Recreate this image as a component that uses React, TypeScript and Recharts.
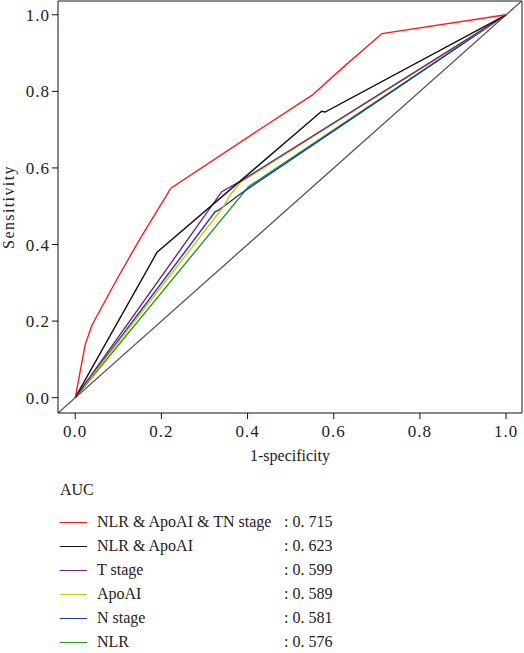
import React from "react";
import {
  LineChart,
  Line,
  XAxis,
  YAxis,
  ReferenceLine,
} from "recharts";

// ROC points (1-specificity, sensitivity)
const combinedFpr = [0, 0.023, 0.039, 0.097, 0.151, 0.222, 0.434, 0.55, 0.623, 0.712, 1];
const combinedTpr = [0, 0.138, 0.19, 0.31, 0.416, 0.547, 0.705, 0.79, 0.864, 0.951, 1];

const nlrApoFpr = [0, 0.19, 0.572, 0.58, 1];
const nlrApoTpr = [0, 0.38, 0.748, 0.746, 1];

const tStageFpr = [0, 0.34, 0.383, 1];
const tStageTpr = [0, 0.538, 0.565, 1];

const apoFpr = [0, 0.345, 0.36, 0.383, 1];
const apoTpr = [0, 0.5, 0.53, 0.562, 1];

const nStageFpr = [0, 0.325, 0.333, 0.383, 1];
const nStageTpr = [0, 0.486, 0.49, 0.532, 1];

const nlrFpr = [0, 0.402, 1];
const nlrTpr = [0, 0.551, 1];

const seriesNames = [
  "NLR & ApoAI & TN stage",
  "NLR & ApoAI",
  "T stage",
  "ApoAI",
  "N stage",
  "NLR",
];
const aucValues = [": 0. 715", ": 0. 623", ": 0. 599", ": 0. 589", ": 0. 581", ": 0. 576"];
const seriesColors = ["#ff1a1a", "#111111", "#6a2390", "#c8c800", "#1f3796", "#2f962a"];

const axisTicks = [0, 0.2, 0.4, 0.6, 0.8, 1.0];
const xDomain = [-0.04, 1.037];
const yDomain = [-0.04, 1.036];

const toPoints = (fpr: number[], tpr: number[]) =>
  fpr.map((x, i) => ({ x, y: tpr[i] }));

const curves = [
  toPoints(combinedFpr, combinedTpr),
  toPoints(nlrApoFpr, nlrApoTpr),
  toPoints(tStageFpr, tStageTpr),
  toPoints(apoFpr, apoTpr),
  toPoints(nStageFpr, nStageTpr),
  toPoints(nlrFpr, nlrTpr),
];

const FONT = "Liberation Serif, Times New Roman, serif";

// serif tick labels (the default tick text came out sans)
const SerifTick = (props: any) => {
  const { x, y, payload, textAnchor, vertical } = props;
  return (
    <text
      x={x}
      y={y}
      dy={vertical ? "0.355em" : "0.71em"}
      textAnchor={textAnchor}
      fontFamily={FONT}
      fontSize={17}
      letterSpacing={1}
      fill="#222"
    >
      {Number(payload.value).toFixed(1)}
    </text>
  );
};

const App = () => {
  return (
    <div
      style={{
        position: "absolute",
        left: 0,
        top: 0,
        width: 524,
        height: 653,
        overflow: "hidden",
        background: "#fff",
        fontFamily: FONT,
        color: "#222",
      }}
    >
      <LineChart
        width={524}
        height={480}
        margin={{ top: 1, right: 2, left: 8, bottom: 7 }}
        style={{ fontFamily: FONT }}
      >
        <XAxis
          dataKey="x"
          type="number"
          domain={xDomain}
          ticks={axisTicks}
          tick={<SerifTick />}
          tickSize={6}
          tickMargin={6}
          height={60}
          stroke="#111"
          allowDataOverflow
          label={{
            value: "1-specificity",
            position: "insideBottom",
            offset: 12,
            style: { fontFamily: FONT, fontSize: 16, fill: "#222" },
          }}
        />
        <YAxis
          dataKey="y"
          type="number"
          domain={yDomain}
          ticks={axisTicks}
          tick={<SerifTick vertical />}
          tickSize={6}
          tickMargin={2}
          width={50}
          stroke="#111"
          allowDataOverflow
          label={{
            value: "Sensitivity",
            angle: -90,
            position: "insideLeft",
            offset: 0,
            style: {
              fontFamily: FONT,
              fontSize: 16,
              fill: "#222",
              textAnchor: "middle",
              letterSpacing: 1.4,
            },
          }}
        />
        {/* box on top and right */}
        <ReferenceLine y={yDomain[1]} stroke="#666" strokeWidth={1.5} ifOverflow="visible" />
        <ReferenceLine x={xDomain[1]} stroke="#666" strokeWidth={1.5} ifOverflow="visible" />
        {/* chance diagonal */}
        <ReferenceLine
          segment={[
            { x: xDomain[0], y: xDomain[0] },
            { x: xDomain[1], y: xDomain[1] },
          ]}
          stroke="#555"
          strokeWidth={1.3}
          ifOverflow="hidden"
        />
        {curves
          .map((pts, i) => (
            <Line
              key={seriesNames[i]}
              data={pts}
              dataKey="y"
              name={seriesNames[i]}
              type="linear"
              stroke={seriesColors[i]}
              strokeWidth={1.4}
              dot={false}
              activeDot={false}
              isAnimationActive={false}
            />
          ))
          .reverse()}
      </LineChart>

      {/* legend */}
      <div style={{ position: "absolute", left: 60, top: 480, fontSize: 16, lineHeight: "20px" }}>
        AUC
      </div>
      {seriesNames.map((name, i) => (
        <div
          key={name}
          style={{
            position: "absolute",
            left: 60,
            top: 512 + i * 24,
            height: 20,
            display: "flex",
            alignItems: "center",
            fontSize: 16,
            lineHeight: "20px",
            whiteSpace: "pre",
          }}
        >
          <span
            style={{
              display: "inline-block",
              width: 27,
              height: 0,
              borderTop: `1.5px solid ${seriesColors[i]}`,
              marginRight: 10,
            }}
          />
          <span style={{ display: "inline-block", width: 187 }}>{name}</span>
          <span>{aucValues[i]}</span>
        </div>
      ))}
    </div>
  );
};

export default App;
